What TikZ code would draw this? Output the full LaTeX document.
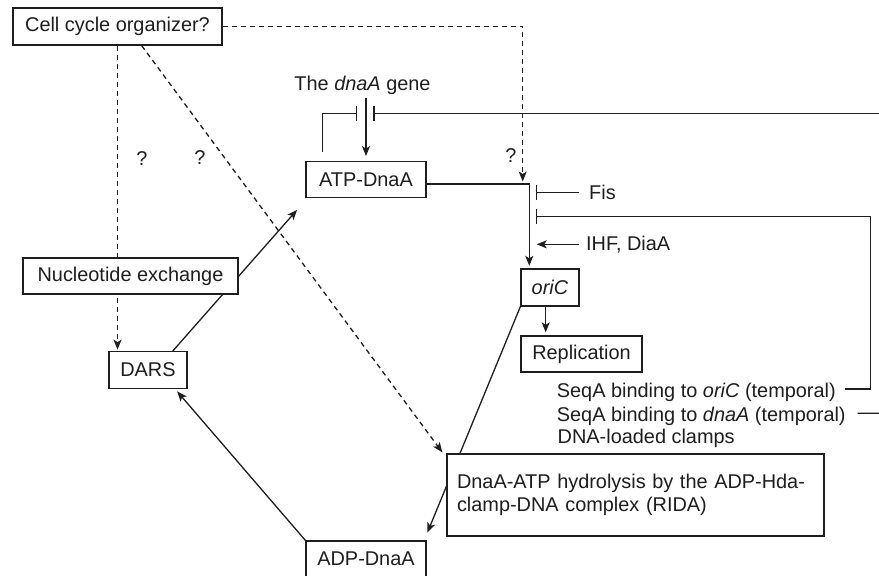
\documentclass[tikz,border=0pt]{standalone}
\usepackage{fontspec}
\setmainfont{Liberation Sans}
\usetikzlibrary{arrows.meta,calc}
\definecolor{ink}{HTML}{1E1E1E}
\pgfdeclarelayer{back}
\pgfsetlayers{back,main}
\begin{document}
\begin{tikzpicture}[x=1pt,y=-1pt,
  font=\fontsize{19.9}{23.5}\selectfont, text=ink,
  box/.style={draw=ink, line width=1.3pt, fill=white, inner sep=0pt, align=center},
  lbl/.style={inner sep=0pt},
  conn/.style={draw=ink, line width=1.3pt},
  arr/.style={conn, -{Stealth[length=10pt,width=8pt,inset=2.5pt]}},
  dsh/.style={arr, dash pattern=on 5pt off 4pt},
  inh/.style={conn, -{Bar[width=15pt]}},
]
\useasboundingbox (0,0) rectangle (879,576);

% boxes
\node[box, minimum width=209pt, minimum height=37pt] (org) at (117.5,26.5) {Cell cycle organizer?};
\node[box, minimum width=120pt, minimum height=35.5pt] (atp) at (366,179.5) {ATP-DnaA};
\node[box, minimum width=215pt, minimum height=36pt] (nuc) at (130.5,276) {Nucleotide exchange};
\node[box, minimum width=78pt, minimum height=36.5pt] (dars) at (148,370) {DARS};
\node[box, minimum width=58pt, minimum height=37pt] (oric) at (550,287.5) {\textit{oriC}};
\node[box, minimum width=121pt, minimum height=36pt] (rep) at (581.5,354) {Replication};
\node[box, minimum width=377pt, minimum height=82pt, text width=357pt, align=left] (rida) at (635.5,495)
  {DnaA-ATP hydrolysis by the ADP-Hda-\\clamp-DNA complex (RIDA)};
\node[box, minimum width=120pt, minimum height=36pt] (adp) at (366,559) {ADP-DnaA};

% free labels
\node[lbl, anchor=base] (gene) at (362.5,90) {The \textit{dnaA} gene};
\node[lbl] (q1) at (142,159) {?};
\node[lbl] (q2) at (200,158) {?};
\node[lbl] (q3) at (511,156) {?};
\node[lbl, anchor=west] (fis) at (589,192.7) {Fis};
\node[lbl, anchor=west] (ihf) at (586,244.3) {IHF, DiaA};
\node[lbl, anchor=base west] (seqori) at (556.7,397.7) {SeqA binding to \textit{oriC} (temporal)};
\node[lbl, anchor=base west] (seqdna) at (556.7,421.3) {SeqA binding to \textit{dnaA} (temporal)};
\node[lbl, anchor=base west] (clamps) at (557.5,443.7) {DNA-loaded clamps};

% helper points
\coordinate (j1) at (529.3,184);
\coordinate (qtip) at (522.7,181.5);
\coordinate (bar) at (535.7,0);
\coordinate (loop) at (870.7,216.7);
\coordinate (gl) at (357.3,113.3);
\coordinate (gr) at (373.3,113.3);
\coordinate (edgeA) at (879,113.3);
\coordinate (edgeB) at (879,413.3);

% organizer to the origin pathway
\draw[dsh] (org.east) -| (qtip);

% ATP-DnaA acts on oriC
\draw[arr] (atp.east |- j1) -- (j1) -- ($(j1 |- oric.north)+(0,-2.5)$);
\draw[inh] ($(fis.west)+(-10,0)$) -- (fis.west -| bar);
\draw[inh] ($(seqori.east)+(9,-3.5)$) -| (loop) -- (loop -| bar);
\draw[arr] ($(ihf.west)+(-7,0)$) -- ($(ihf.west -| j1)+(7.4,0)$);
\draw[arr] ($(oric.south)+(-4.3,0)$) -- ($(rep.north -| oric.south)+(-4.3,-3)$);

% dnaA gene regulation
\draw[arr] ($(gene.south -| atp.north)+(0,4)$) -- ($(atp.north)+(0,-5)$);
\draw[inh] ($(atp.north west)+(17,-9)$) |- (gl);
\draw[inh] (edgeA) -- (gr);
\draw[conn] ($(seqdna.east)+(11.7,-3)$) -- (edgeB);

% connectors passing behind boxes
\begin{pgfonlayer}{back}
\draw[dsh] (org.south) -- ($(org.south |- dars.north)+(0,-1.5)$);
\draw[dsh] ($(org.south)+(24.2,0)$) -- ($(rida.north west)+(-4,-1)$);
\draw[arr] ($(dars.north)+(24.7,0)$) -- ($(atp.south west)+(-8.3,12)$);
\draw[arr] (adp.north west) -- ($(dars.south east)+(-10.5,2.5)$);
\draw[arr] (oric.south west) -- ($(adp.north east)+(0.7,-7.7)$);
\end{pgfonlayer}
\end{tikzpicture}
\end{document}
